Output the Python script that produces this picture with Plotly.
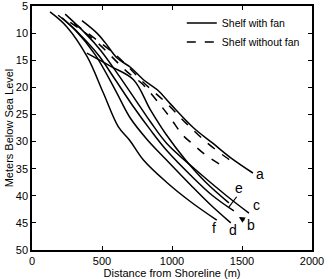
import plotly.graph_objects as go

# Profile data: distance from shoreline (m) vs. depth below sea level (m)
a_x = [357, 464, 524, 608, 703, 796, 897, 990, 1155, 1291, 1420, 1578]
a_y = [7.7, 10.0, 11.8, 14.6, 16.3, 18.6, 20.5, 23.1, 27.5, 30.3, 33.0, 35.8]

b_x = [215, 344, 473, 595, 717, 847, 961, 1133, 1291, 1442]
b_y = [7.2, 10.3, 14.0, 18.6, 23.3, 27.9, 31.6, 36.2, 40.0, 42.8]

c_x = [237, 380, 488, 617, 739, 847, 961, 1169, 1385, 1550]
c_y = [6.5, 10.0, 13.1, 17.7, 22.3, 26.4, 30.3, 35.2, 39.9, 43.2]

d_x = [187, 308, 452, 595, 703, 825, 961, 1133, 1277, 1420]
d_y = [6.7, 9.4, 14.0, 20.5, 25.7, 29.7, 33.4, 38.0, 41.7, 45.0]

e_x = [392, 560, 725, 847, 961, 1097, 1241, 1406]
e_y = [13.7, 16.1, 18.6, 24.2, 28.8, 33.4, 37.5, 41.3]

f_x = [129, 251, 395, 509, 617, 696, 796, 961, 1133, 1320]
f_y = [6.1, 8.9, 14.4, 21.0, 27.3, 29.7, 33.4, 37.5, 41.1, 44.5]

n1_x = [273, 455, 682, 789, 918, 990, 1076, 1155, 1241, 1349]
n1_y = [8.0, 11.5, 17.2, 19.4, 23.3, 25.7, 28.8, 30.6, 32.5, 34.3]

n2_x = [300, 470, 640, 800, 960, 1100, 1250, 1380, 1460]
n2_y = [8.2, 11.4, 15.0, 19.2, 22.9, 26.6, 30.2, 32.8, 34.2]

labels = ["a", "b", "c", "d", "e", "f"]
label_x = [1628, 1564, 1600, 1433, 1475, 1301]
label_y = [36.0, 45.4, 41.7, 46.3, 38.6, 46.0]

x_ticks = [0, 500, 1000, 1500, 2000]
y_ticks = [5, 10, 15, 20, 25, 30, 35, 40, 45, 50]

fig = go.Figure()
solid = dict(color="black", width=1.5)
dashed = dict(color="black", width=1.5, dash="dash")

fan_sets = [(a_x, a_y), (b_x, b_y), (c_x, c_y), (d_x, d_y), (e_x, e_y), (f_x, f_y)]
for i, (xs, ys) in enumerate(fan_sets):
    fig.add_trace(go.Scatter(x=xs, y=ys, mode="lines", line=solid,
                             name="Shelf with fan", showlegend=(i == 0),
                             line_shape="spline"))
for i, (xs, ys) in enumerate([(n1_x, n1_y), (n2_x, n2_y)]):
    fig.add_trace(go.Scatter(x=xs, y=ys, mode="lines", line=dashed,
                             name="Shelf without fan", showlegend=(i == 0),
                             line_shape="spline"))

for lab, lx, ly in zip(labels, label_x, label_y):
    fig.add_annotation(x=lx, y=ly, text=lab, showarrow=False,
                       font=dict(size=14, color="black", family="Liberation Sans"))

# pointer lines for e and b
fig.add_annotation(x=1406, y=42.1, ax=1470, ay=39.9, axref="x", ayref="y",
                   text="", showarrow=True, arrowhead=0, arrowwidth=1.2, arrowcolor="black")
fig.add_annotation(x=1478, y=43.9, ax=1528, ay=44.7, axref="x", ayref="y",
                   text="", showarrow=True, arrowhead=2, arrowsize=1, arrowwidth=1.2,
                   arrowcolor="black")

axis_common = dict(showline=True, linecolor="black", linewidth=1.5, mirror="allticks",
                   ticks="inside", ticklen=4, tickcolor="black", showgrid=False,
                   zeroline=False, tickfont=dict(size=11, color="black"),
                   automargin=False, ticklabeloverflow="allow")

fig.update_xaxes(range=[0, 2000], tickvals=x_ticks,
                 title=dict(text="Distance from Shoreline (m)", font=dict(size=11, color="black"),
                            standoff=0),
                 **axis_common)
fig.update_yaxes(range=[50, 5], tickvals=y_ticks,
                 title=dict(text="Meters Below Sea Level", font=dict(size=11, color="black"),
                            standoff=0),
                 **axis_common)

fig.update_layout(
    width=332, height=279,
    margin=dict(l=32, r=20, t=6, b=29),
    paper_bgcolor="white", plot_bgcolor="white",
    font=dict(family="Liberation Sans, Arial, sans-serif", color="black"),
    legend=dict(x=0.535, y=0.99, xanchor="left", yanchor="top",
                bgcolor="rgba(0,0,0,0)", font=dict(size=10.5, color="black"),
                tracegroupgap=0, itemwidth=30),
)

fig.write_html("out.html", config={"displayModeBar": False},
               post_script="document.body.style.margin='0';document.body.style.overflow='hidden';")
